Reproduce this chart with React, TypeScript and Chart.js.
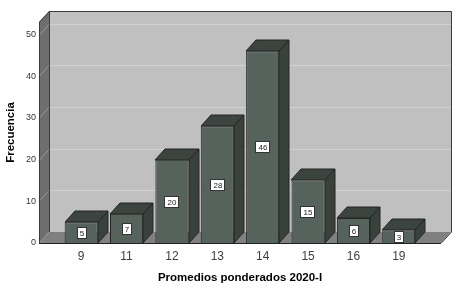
import React, { useEffect, useRef } from "react";
import { Chart, registerables } from "chart.js";

Chart.register(...registerables);

const categories = ["9", "11", "12", "13", "14", "15", "16", "19"];
const frequencies = [5, 7, 20, 28, 46, 15, 6, 3];
const yTickValues = [0, 10, 20, 30, 40, 50];
const yTitle = "Frecuencia";
const xTitle = "Promedios ponderados 2020-I";

const DX = 10;
const DY = 11;
const FONT = "Arial, 'Liberation Sans', sans-serif";

const threeD = {
  id: "threeD",
  beforeDatasetsDraw(chart: any) {
    const { ctx, chartArea, scales } = chart;
    const L = Math.round(chartArea.left);
    const R = Math.round(chartArea.right);
    const T = Math.round(chartArea.top);
    const B = Math.round(chartArea.bottom);
    ctx.save();
    // back wall
    ctx.fillStyle = "#c0c0c0";
    ctx.fillRect(L + DX, T - DY, R - L, B - T);
    // gridlines on back wall
    ctx.strokeStyle = "#d2d2d2";
    ctx.lineWidth = 1;
    yTickValues.forEach((v) => {
      if (v === 0) return;
      const y = Math.round(scales.y.getPixelForValue(v)) - DY + 0.5;
      ctx.beginPath();
      ctx.moveTo(L + DX, y);
      ctx.lineTo(R + DX, y);
      ctx.stroke();
    });
    // left wall
    ctx.fillStyle = "#6e6e6e";
    ctx.beginPath();
    ctx.moveTo(L, T);
    ctx.lineTo(L + DX, T - DY);
    ctx.lineTo(L + DX, B - DY);
    ctx.lineTo(L, B);
    ctx.closePath();
    ctx.fill();
    // slanted lines on left wall
    ctx.strokeStyle = "#9a9a9a";
    yTickValues.forEach((v) => {
      if (v === 0) return;
      const y = Math.round(scales.y.getPixelForValue(v)) + 0.5;
      ctx.beginPath();
      ctx.moveTo(L, y);
      ctx.lineTo(L + DX, y - DY);
      ctx.stroke();
    });
    // floor
    ctx.fillStyle = "#808080";
    ctx.beginPath();
    ctx.moveTo(L, B);
    ctx.lineTo(L + DX, B - DY);
    ctx.lineTo(R + DX, B - DY);
    ctx.lineTo(R, B);
    ctx.closePath();
    ctx.fill();
    // borders
    ctx.strokeStyle = "#3a3a3a";
    ctx.beginPath();
    ctx.moveTo(L + 0.5, B);
    ctx.lineTo(L + 0.5, T);
    ctx.lineTo(L + DX + 0.5, T - DY + 0.5);
    ctx.lineTo(R + DX + 0.5, T - DY + 0.5);
    ctx.lineTo(R + DX + 0.5, B - DY);
    ctx.lineTo(R + 0.5, B);
    ctx.stroke();
    ctx.beginPath();
    ctx.moveTo(L + DX + 0.5, T - DY);
    ctx.lineTo(L + DX + 0.5, B - DY);
    ctx.stroke();
    ctx.strokeStyle = "#222222";
    ctx.beginPath();
    ctx.moveTo(L, B + 0.5);
    ctx.lineTo(R, B + 0.5);
    ctx.stroke();
    ctx.restore();
  },
  afterDatasetsDraw(chart: any) {
    const { ctx } = chart;
    const meta = chart.getDatasetMeta(0);
    ctx.save();
    meta.data.forEach((el: any, i: number) => {
      const { x, y, base, width } = el.getProps(["x", "y", "base", "width"], true);
      const l = Math.round(x - width / 2);
      const r = Math.round(x + width / 2);
      const t = Math.round(y);
      const b = Math.round(base);
      ctx.strokeStyle = "#252525";
      ctx.lineWidth = 1;
      // top face
      ctx.fillStyle = "#3b443f";
      ctx.beginPath();
      ctx.moveTo(l, t);
      ctx.lineTo(l + DX, t - DY);
      ctx.lineTo(r + DX, t - DY);
      ctx.lineTo(r, t);
      ctx.closePath();
      ctx.fill();
      ctx.stroke();
      // side face
      ctx.fillStyle = "#39413c";
      ctx.beginPath();
      ctx.moveTo(r, t);
      ctx.lineTo(r + DX, t - DY);
      ctx.lineTo(r + DX, b - DY);
      ctx.lineTo(r, b);
      ctx.closePath();
      ctx.fill();
      ctx.stroke();
      // value label
      const txt = String(frequencies[i]);
      ctx.font = `8px ${FONT}`;
      const tw = ctx.measureText(txt).width;
      const bw = Math.round(tw + 6);
      const bh = 12;
      const cx = Math.round((l + r) / 2);
      const cy = Math.round((t + b) / 2);
      const bx = cx - Math.round(bw / 2);
      const by = cy - bh / 2;
      ctx.fillStyle = "#ffffff";
      ctx.fillRect(bx, by, bw, bh);
      ctx.strokeStyle = "#333333";
      ctx.strokeRect(bx + 0.5, by + 0.5, bw - 1, bh - 1);
      ctx.fillStyle = "#222222";
      ctx.textAlign = "center";
      ctx.textBaseline = "middle";
      ctx.fillText(txt, cx, cy + 0.5);
    });
    ctx.restore();
  },
};

export default function App() {
  const ref = useRef<HTMLCanvasElement | null>(null);
  useEffect(() => {
    if (!ref.current) return;
    const chart = new Chart(ref.current, {
      type: "bar",
      data: {
        datasets: [
          {
            data: frequencies.map((v, i) => ({ x: i, y: v })),
            backgroundColor: "#56625c",
            borderColor: "#252525",
            borderWidth: 1,
            barPercentage: 0.73,
            categoryPercentage: 1,
          },
        ],
      },
      options: {
        responsive: false,
        animation: false,
        layout: { padding: { top: 22, right: 21, left: 0, bottom: 0 } },
        plugins: { legend: { display: false }, tooltip: { enabled: false } },
        scales: {
          x: {
            type: "linear",
            offset: false,
            min: -0.93,
            max: 7.93,
            grid: { display: false, drawTicks: false },
            border: { display: false },
            afterBuildTicks: (scale: any) => {
              scale.ticks = categories.map((_, i) => ({ value: i }));
            },
            afterFit: (scale: any) => {
              scale.height = 49;
            },
            ticks: {
              autoSkip: false,
              maxRotation: 0,
              padding: 6,
              color: "#404040",
              font: { family: FONT, size: 12 },
              callback: (v: any) => categories[v] ?? "",
            },
            title: {
              display: true,
              text: xTitle,
              color: "#000000",
              font: { family: FONT, size: 11.5, weight: "bold" },
              padding: { top: 4, bottom: 7 },
            },
          },
          y: {
            min: 0,
            max: 53,
            grid: { display: false, drawTicks: false },
            border: { display: false },
            afterBuildTicks: (scale: any) => {
              scale.ticks = yTickValues.map((v) => ({ value: v }));
            },
            afterFit: (scale: any) => {
              scale.width = 39;
            },
            ticks: {
              padding: 3,
              color: "#333333",
              font: { family: FONT, size: 9 },
            },
            title: {
              display: true,
              text: yTitle,
              color: "#000000",
              font: { family: FONT, size: 11.5, weight: "bold" },
              padding: { top: 4, bottom: 4 },
            },
          },
        },
      },
      plugins: [threeD],
    } as any);
    return () => chart.destroy();
  }, []);
  return (
    <div style={{ position: "fixed", left: 0, top: 0, width: 462, height: 292, background: "#ffffff" }}>
      <canvas ref={ref} width={462} height={292} />
    </div>
  );
}
